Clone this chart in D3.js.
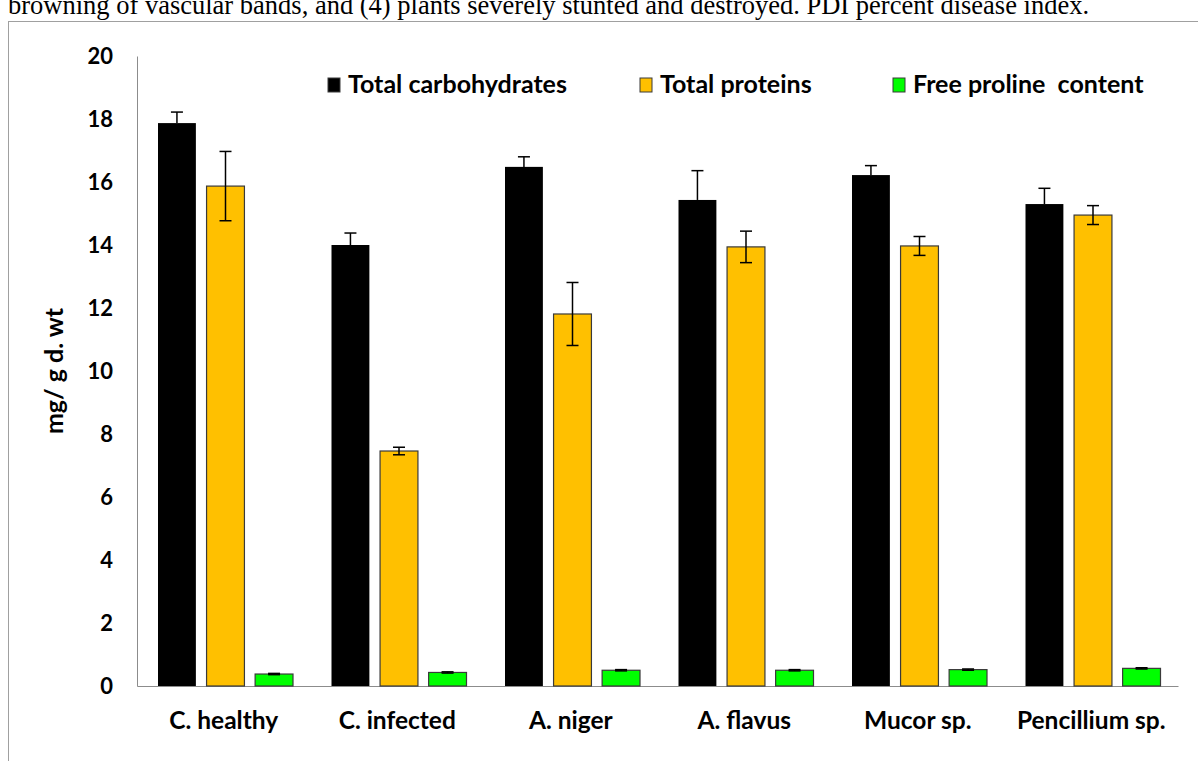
<!DOCTYPE html>
<html>
<head>
<meta charset="UTF-8">
<script src="https://d3js.org/d3.v7.min.js"></script>
<style>
  body { margin: 0; background: #fff; }
  svg { display: block; }
</style>
</head>
<body>
<svg id="chart"></svg>
<script>
// data
const categories = ["C. healthy", "C. infected", "A. niger", "A. flavus", "Mucor sp.", "Pencillium sp."];
const seriesNames = ["Total carbohydrates", "Total proteins", "Free proline  content"];
const carbohydrates = [17.87, 14.0, 16.48, 15.43, 16.22, 15.3];
const carbErr = [0.35, 0.38, 0.32, 0.93, 0.3, 0.5];
const proteins = [15.87, 7.46, 11.81, 13.94, 13.97, 14.95];
const protErr = [1.1, 0.12, 1.0, 0.5, 0.3, 0.3];
const proline = [0.38, 0.43, 0.5, 0.5, 0.52, 0.56];
const prolErr = [0.02, 0.02, 0.02, 0.02, 0.02, 0.02];
const yTicks = [0, 2, 4, 6, 8, 10, 12, 14, 16, 18, 20];

const seriesColors = ["#000000", "#FFC000", "#00FF00"];
const seriesValues = [carbohydrates, proteins, proline];
const seriesErrs = [carbErr, protErr, prolErr];

let width = 1198, height = 761;
let svg = d3.select("#chart").attr("width", width).attr("height", height);
const font = "Lato, 'Open Sans', sans-serif";

// caption line (clipped by the page top in the source)
svg.append("text")
    .attr("x", 8).attr("y", 14)
    .style("font-family", "'Liberation Serif', 'Times New Roman', serif")
    .style("font-size", "26.5px")
    .text("browning of vascular bands, and (4) plants severely stunted and destroyed. PDI percent disease index.");

// chart frame
svg.append("rect")
    .attr("x", 8.5).attr("y", 21.5)
    .attr("width", 1300).attr("height", 900)
    .attr("fill", "#fff").attr("stroke", "#a0a0a0").attr("stroke-width", 1);

let mLeft = 137, mRight = 1178, mTop = 56, mBottom = 686;

let x0 = d3.scaleBand().domain(categories).range([mLeft, mRight]).paddingInner(0).paddingOuter(0);
let x1 = d3.scaleBand().domain(d3.range(3)).range([21, 156]).paddingInner(0.22).paddingOuter(0);
let y = d3.scaleLinear().domain([0, 20]).range([mBottom, mTop]);

// y axis
let yAxis = svg.append("g")
    .attr("transform", `translate(${mLeft},0)`)
    .call(d3.axisLeft(y).tickValues(yTicks).tickSize(0).tickPadding(24));
yAxis.select(".domain").attr("stroke", "#8c8c8c");
yAxis.selectAll("text")
    .style("font-family", font).style("font-weight", "bold").style("font-size", "22px").attr("fill", "#000");

// x axis
let xAxis = svg.append("g")
    .attr("transform", `translate(0,${mBottom})`)
    .call(d3.axisBottom(x0).tickSize(0).tickPadding(26));
xAxis.select(".domain").attr("stroke", "#8c8c8c");
xAxis.selectAll("text")
    .style("font-family", font).style("font-weight", "bold").style("font-size", "24.5px").attr("fill", "#000");

// y title
svg.append("text")
    .attr("transform", `translate(63,${(mTop + mBottom) / 2}) rotate(-90)`)
    .attr("text-anchor", "middle")
    .style("font-family", font).style("font-weight", "bold").style("font-size", "25px")
    .text("mg/ g d. wt");

// bars
seriesValues.forEach((vals, s) => {
    let g = svg.append("g");
    g.selectAll("rect")
        .data(vals)
        .enter()
        .append("rect")
        .attr("x", (d, i) => x0(categories[i]) + x1(s))
        .attr("y", d => y(d))
        .attr("width", x1.bandwidth())
        .attr("height", d => y(0) - y(d))
        .attr("fill", seriesColors[s])
        .attr("stroke", s == 0 ? "none" : "#3a3a3a")
        .attr("stroke-width", 1.2);

    // error bars
    let errs = seriesErrs[s];
    let eg = svg.append("g").attr("stroke", "#000").attr("stroke-width", 1.5);
    vals.forEach((d, i) => {
        let cx = x0(categories[i]) + x1(s) + x1.bandwidth() / 2;
        let lo = s == 0 ? d : d - errs[i];
        eg.append("line").attr("x1", cx).attr("x2", cx).attr("y1", y(d + errs[i])).attr("y2", y(lo));
        eg.append("line").attr("x1", cx - 6).attr("x2", cx + 6).attr("y1", y(d + errs[i])).attr("y2", y(d + errs[i]));
        if (s != 0) {
            eg.append("line").attr("x1", cx - 6).attr("x2", cx + 6).attr("y1", y(d - errs[i])).attr("y2", y(d - errs[i]));
        }
    });
});

// legend
const legendX = [328, 640, 893];
seriesNames.forEach((name, s) => {
    svg.append("rect")
        .attr("x", legendX[s]).attr("y", 78)
        .attr("width", 12).attr("height", 14)
        .attr("fill", seriesColors[s])
        .attr("stroke", "#3a3a3a").attr("stroke-width", 1);
    svg.append("text")
        .attr("x", legendX[s] + 20).attr("y", 93)
        .style("font-family", font).style("font-weight", "bold").style("font-size", "25px")
        .style("white-space", "pre")
        .text(name);
});
</script>
</body>
</html>
